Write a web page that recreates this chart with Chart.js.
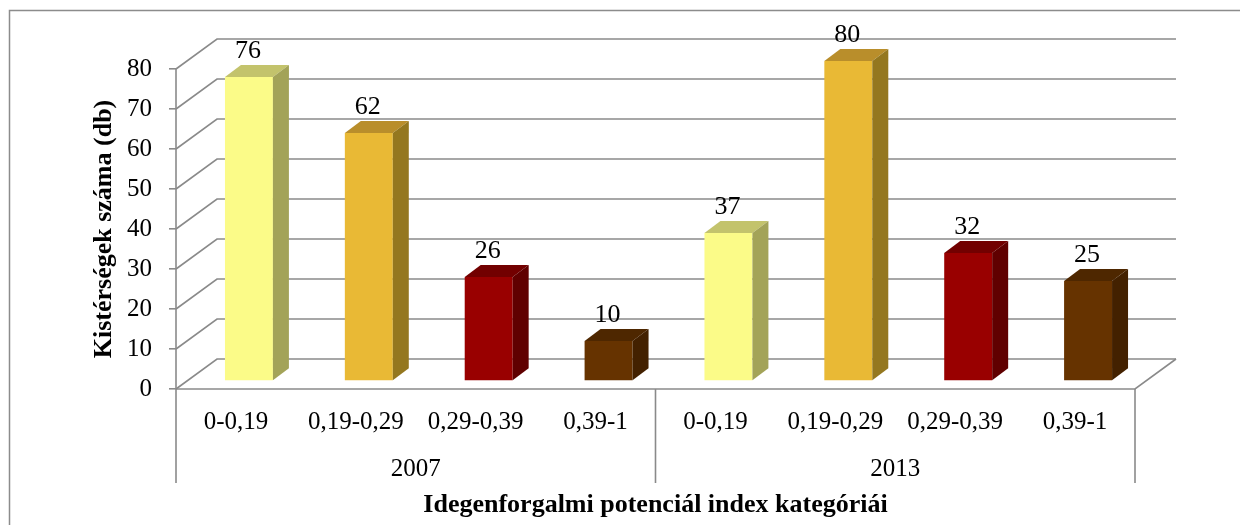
<!DOCTYPE html>
<html>
<head>
<meta charset="utf-8">
<script src="https://cdn.jsdelivr.net/npm/chart.js@4.4.0/dist/chart.umd.min.js"></script>
<style>
html,body{margin:0;padding:0;background:#ffffff;}
#wrap{width:1240px;height:525px;position:relative;}
</style>
</head>
<body>
<div id="wrap"><canvas id="c" width="1240" height="525"></canvas></div>
<script>
// ---- data ----
const groups = ['2007', '2013'];
const categories = ['0-0,19', '0,19-0,29', '0,29-0,39', '0,39-1'];
const values2007 = [76, 62, 26, 10];
const values2013 = [37, 80, 32, 25];
const yTicks = [0, 10, 20, 30, 40, 50, 60, 70, 80];
const yTitle = 'Kistérségek száma (db)';
const xTitle = 'Idegenforgalmi potenciál index kategóriái';

// ---- styles ----
const frontColors = ['#FBFB88', '#E9B935', '#990000', '#663300'];
const topColors   = ['#C3C36C', '#B98E2B', '#720000', '#4E2700'];
const sideColors  = ['#A3A358', '#94771F', '#600000', '#432100'];
const FONT = "'Liberation Serif', 'Times New Roman', serif";
const GRID = '#8a8a8a';
const DX = 13, DY = -8;     // bar front plane shift from front axis plane
const BX = 41, BY = -30;    // back wall shift
const SX = 16, SY = -12;    // bar depth
const AXIS_BOTTOM = 483;

const labels = groups.flatMap(() => categories);
const values = values2007.concat(values2013);

function line(ctx, pts) {
  ctx.beginPath();
  ctx.moveTo(pts[0][0], pts[0][1]);
  for (let i = 1; i < pts.length; i++) ctx.lineTo(pts[i][0], pts[i][1]);
  ctx.stroke();
}
function poly(ctx, pts, color) {
  ctx.beginPath();
  ctx.moveTo(pts[0][0], pts[0][1]);
  for (let i = 1; i < pts.length; i++) ctx.lineTo(pts[i][0], pts[i][1]);
  ctx.closePath();
  ctx.fillStyle = color;
  ctx.fill();
}

const box3d = {
  id: 'box3d',
  beforeDraw(chart) {
    const ctx = chart.ctx;
    ctx.save();
    ctx.fillStyle = '#ffffff';
    ctx.fillRect(0, 0, chart.width, chart.height);
    ctx.strokeStyle = '#8c8c8c';
    ctx.lineWidth = 1.5;
    ctx.strokeRect(9.5, 10.5, chart.width + 50, chart.height + 50);
    ctx.restore();
  },
  beforeDatasetsDraw(chart) {
    const ctx = chart.ctx;
    const xs = chart.scales.x, ys = chart.scales.y;
    const L = chart.chartArea.left, R = chart.chartArea.right;
    const y0 = ys.getPixelForValue(0);
    ctx.save();
    ctx.strokeStyle = GRID;
    ctx.lineWidth = 1.6;
    // back wall gridlines + side wall diagonals
    yTicks.forEach(v => {
      const yF = ys.getPixelForValue(v);
      line(ctx, [[L, yF], [L + BX, yF + BY], [R + BX, yF + BY]]);
    });
    // floor
    line(ctx, [[L, y0], [R, y0], [R + BX, y0 + BY]]);
    // front vertical axis and category group separators
    line(ctx, [[L, ys.getPixelForValue(80)], [L, AXIS_BOTTOM]]);
    line(ctx, [[R, y0], [R, AXIS_BOTTOM]]);
    const n = categories.length;
    for (let g = 1; g < groups.length; g++) {
      const xm = (xs.getPixelForValue(g * n - 1) + xs.getPixelForValue(g * n)) / 2;
      line(ctx, [[xm, y0], [xm, AXIS_BOTTOM]]);
    }
    // group labels
    ctx.fillStyle = '#000';
    ctx.font = '25px ' + FONT;
    ctx.textAlign = 'center';
    ctx.textBaseline = 'middle';
    groups.forEach((gname, g) => {
      const xc = (xs.getPixelForValue(g * n) + xs.getPixelForValue(g * n + n - 1)) / 2;
      ctx.fillText(gname, xc, 469);
    });
    ctx.restore();
    // shift the bar plane back into the box
    ctx.save();
    ctx.translate(DX, DY);
  },
  afterDatasetsDraw(chart) {
    const ctx = chart.ctx;
    ctx.restore();
    const meta = chart.getDatasetMeta(0);
    ctx.save();
    meta.data.forEach((bar, i) => {
      const p = bar.getProps(['x', 'y', 'base', 'width'], true);
      const Lx = p.x - p.width / 2 + DX, Rx = p.x + p.width / 2 + DX;
      const T = p.y + DY, B = p.base + DY;
      const k = i % categories.length;
      poly(ctx, [[Lx, T], [Rx, T], [Rx + SX, T + SY], [Lx + SX, T + SY]], topColors[k]);
      poly(ctx, [[Rx, T], [Rx + SX, T + SY], [Rx + SX, B + SY], [Rx, B]], sideColors[k]);
      ctx.fillStyle = '#000';
      ctx.font = '26px ' + FONT;
      ctx.textAlign = 'center';
      ctx.textBaseline = 'alphabetic';
      ctx.fillText(String(values[i]), p.x + DX - 1, T + SY - 7);
    });
    ctx.restore();
  }
};

new Chart(document.getElementById('c'), {
  type: 'bar',
  data: {
    labels: labels,
    datasets: [{
      data: values,
      backgroundColor: labels.map((_, i) => frontColors[i % categories.length]),
      borderWidth: 0,
      categoryPercentage: 1,
      barPercentage: 0.4,
      clip: false
    }]
  },
  options: {
    responsive: false,
    animation: false,
    devicePixelRatio: 1,
    layout: { padding: { left: 0, top: 69, right: 105, bottom: 0 } },
    plugins: { legend: { display: false }, tooltip: { enabled: false } },
    scales: {
      x: {
        grid: { display: false },
        border: { display: false },
        ticks: { font: { family: FONT, size: 25 }, color: '#000', padding: 10, maxRotation: 0, autoSkip: false },
        title: { display: true, text: xTitle, color: '#000', font: { family: FONT, size: 26, weight: 'bold' }, padding: { top: 0, bottom: 4 } },
        afterFit: s => { s.height = 136; }
      },
      y: {
        min: 0, max: 80,
        ticks: { stepSize: 10, font: { family: FONT, size: 25 }, color: '#000', padding: 17 },
        grid: { drawOnChartArea: false, drawTicks: true, tickLength: 7, color: GRID, lineWidth: 1.6 },
        border: { display: false },
        title: { display: true, text: yTitle, color: '#000', font: { family: FONT, size: 26, weight: 'bold' }, padding: { top: 89, bottom: 0 } },
        afterFit: s => { s.width = 176; }
      }
    }
  },
  plugins: [box3d]
});
</script>
</body>
</html>
